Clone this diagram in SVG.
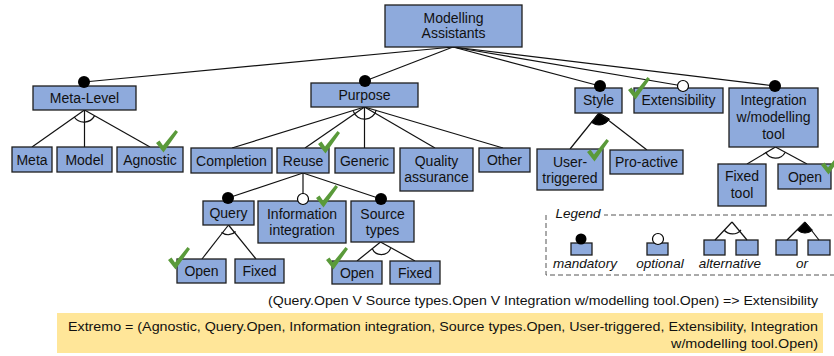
<svg xmlns="http://www.w3.org/2000/svg" xmlns:xlink="http://www.w3.org/1999/xlink" width="834" height="356" viewBox="0 0 834 356">
  <style>
    .box { fill: #8eaadc; stroke: #1e1e1e; stroke-width: 1.3; }
    .lbl { font-family: "Liberation Sans", Arial, sans-serif; font-size: 14px; fill: #111; text-anchor: middle; }
    .edge { stroke: #111; stroke-width: 1.2; fill: none; }
    .mand { fill: #000; }
    .opt { fill: #fff; stroke: #000; stroke-width: 1.2; }
    .arc { fill: #fff; stroke: #111; stroke-width: 1.2; }
    .orarc { fill: #000; stroke: #000; stroke-width: 1; }
    .leg { font-family: "Liberation Sans", Arial, sans-serif; font-size: 13.5px; font-style: italic; fill: #111; text-anchor: middle; }
    .note { font-family: "Liberation Sans", Arial, sans-serif; font-size: 12.5px; fill: #111; }
    .chk { fill: #5a9a3a; }
  </style>
  <defs>
    <path id="check" d="M0,13 L3.5,10.5 L7,15.5 L19.5,0 L22,2 L7.5,22.5 Z"/>
  </defs>

  <rect width="834" height="356" fill="#fff"/>

  <!-- connectors -->
  <g id="connectors">
    <!-- root to top-level features -->
    <line class="edge" x1="453" y1="47" x2="84" y2="82"/>
    <line class="edge" x1="453" y1="47" x2="365" y2="81"/>
    <line class="edge" x1="453" y1="47" x2="600" y2="86"/>
    <line class="edge" x1="453" y1="47" x2="683" y2="86"/>
    <line class="edge" x1="453" y1="47" x2="775" y2="86"/>

    <!-- Meta-Level alternative -->
    <path class="arc" d="M74.2,117 A12,12 0 0 0 94.5,115.9"/>
    <line class="edge" x1="84.5" y1="110" x2="32" y2="147"/>
    <line class="edge" x1="84.5" y1="110" x2="84.5" y2="147"/>
    <line class="edge" x1="84.5" y1="110" x2="150" y2="147"/>

    <!-- Purpose alternative -->
    <path class="arc" d="M353.3,111.3 A12,12 0 0 0 376.3,109.8"/>
    <line class="edge" x1="364.5" y1="107" x2="232" y2="148"/>
    <line class="edge" x1="364.5" y1="107" x2="305" y2="148"/>
    <line class="edge" x1="364.5" y1="107" x2="364.5" y2="148"/>
    <line class="edge" x1="364.5" y1="107" x2="435" y2="148"/>
    <line class="edge" x1="364.5" y1="107" x2="503" y2="148"/>

    <!-- Reuse sub-features -->
    <line class="edge" x1="303" y1="173" x2="228" y2="198"/>
    <line class="edge" x1="303" y1="173" x2="303" y2="199"/>
    <line class="edge" x1="303" y1="173" x2="381" y2="199"/>

    <!-- Query alternative -->
    <path class="arc" d="M221.6,232.2 A10,10 0 0 0 235.6,231.5"/>
    <line class="edge" x1="228.5" y1="225" x2="202" y2="259"/>
    <line class="edge" x1="228.5" y1="225" x2="256" y2="259"/>

    <!-- Source types alternative -->
    <path class="arc" d="M372.2,248.5 A10,10 0 0 0 390.7,248.2"/>
    <line class="edge" x1="380.5" y1="242" x2="357" y2="261"/>
    <line class="edge" x1="380.5" y1="242" x2="415" y2="261"/>

    <!-- Style or-group -->
    <path class="orarc" d="M599,113 L591.5,122.3 A12,12 0 0 0 609.4,119 Z"/>
    <line class="edge" x1="599" y1="113" x2="570" y2="149"/>
    <line class="edge" x1="599" y1="113" x2="647" y2="150"/>

    <!-- Integration alternative -->
    <path class="arc" d="M765.6,152.1 A11,11 0 0 0 785.1,152.5"/>
    <line class="edge" x1="775.5" y1="147" x2="747" y2="164"/>
    <line class="edge" x1="775.5" y1="147" x2="807" y2="164"/>
  </g>

  <!-- root -->
  <g id="modelling-assistants">
    <rect class="box" x="385" y="5" width="137" height="42"/>
    <text class="lbl" x="453.5" y="22.5">Modelling</text>
    <text class="lbl" x="453.5" y="38">Assistants</text>
  </g>

  <!-- Meta-Level -->
  <g id="meta-level">
    <rect class="box" x="33" y="86" width="103" height="24"/>
    <text class="lbl" x="84.5" y="103">Meta-Level</text>
    <circle class="mand" cx="84" cy="82" r="6"/>
  </g>
  <g id="meta">
    <rect class="box" x="12" y="147" width="40" height="25"/>
    <text class="lbl" x="32" y="164.5">Meta</text>
  </g>
  <g id="model">
    <rect class="box" x="57" y="147" width="55" height="25"/>
    <text class="lbl" x="84.5" y="164.5">Model</text>
  </g>
  <g id="agnostic">
    <rect class="box" x="117" y="147" width="66" height="25"/>
    <text class="lbl" x="150" y="164.5">Agnostic</text>
  </g>

  <!-- Purpose -->
  <g id="purpose">
    <rect class="box" x="311" y="83" width="107" height="24"/>
    <text class="lbl" x="364.5" y="100">Purpose</text>
    <circle class="mand" cx="365" cy="81" r="6"/>
  </g>
  <g id="completion">
    <rect class="box" x="191" y="148" width="81" height="25"/>
    <text class="lbl" x="231.5" y="165.5">Completion</text>
  </g>
  <g id="reuse">
    <rect class="box" x="277" y="148" width="52" height="25"/>
    <text class="lbl" x="303" y="165.5">Reuse</text>
  </g>
  <g id="generic">
    <rect class="box" x="335" y="148" width="59" height="25"/>
    <text class="lbl" x="364.5" y="165.5">Generic</text>
  </g>
  <g id="quality-assurance">
    <rect class="box" x="400" y="148" width="73" height="43"/>
    <text class="lbl" x="436.5" y="166">Quality</text>
    <text class="lbl" x="436.5" y="182">assurance</text>
  </g>
  <g id="other">
    <rect class="box" x="479" y="148" width="51" height="24"/>
    <text class="lbl" x="504.5" y="165">Other</text>
  </g>

  <!-- Reuse sub-features -->
  <g id="query">
    <rect class="box" x="203" y="201" width="51" height="24"/>
    <text class="lbl" x="228.5" y="218">Query</text>
    <circle class="mand" cx="228" cy="198" r="6"/>
  </g>
  <g id="information-integration">
    <rect class="box" x="258" y="201" width="88" height="42"/>
    <text class="lbl" x="302" y="218.5">Information</text>
    <text class="lbl" x="302" y="235">integration</text>
    <circle class="opt" cx="303" cy="199" r="5.5"/>
  </g>
  <g id="source-types">
    <rect class="box" x="351" y="201" width="63" height="41"/>
    <text class="lbl" x="382.5" y="218.5">Source</text>
    <text class="lbl" x="382.5" y="235">types</text>
    <circle class="mand" cx="381" cy="199" r="6"/>
  </g>
  <g id="query-open">
    <rect class="box" x="177" y="259" width="49" height="24"/>
    <text class="lbl" x="201.5" y="276">Open</text>
  </g>
  <g id="query-fixed">
    <rect class="box" x="235" y="259" width="49" height="24"/>
    <text class="lbl" x="259.5" y="276">Fixed</text>
  </g>
  <g id="source-open">
    <rect class="box" x="332" y="261" width="50" height="23"/>
    <text class="lbl" x="357" y="277.5">Open</text>
  </g>
  <g id="source-fixed">
    <rect class="box" x="390" y="261" width="50" height="23"/>
    <text class="lbl" x="415" y="277.5">Fixed</text>
  </g>

  <!-- Style -->
  <g id="style">
    <rect class="box" x="575" y="88" width="47" height="25"/>
    <text class="lbl" x="598.5" y="105">Style</text>
    <circle class="mand" cx="600" cy="86" r="6"/>
  </g>
  <g id="user-triggered">
    <rect class="box" x="537" y="149" width="66" height="41"/>
    <text class="lbl" x="570" y="166.5">User-</text>
    <text class="lbl" x="570" y="182.5">triggered</text>
  </g>
  <g id="pro-active">
    <rect class="box" x="610" y="150" width="73" height="24"/>
    <text class="lbl" x="646.5" y="167">Pro-active</text>
  </g>

  <!-- Extensibility -->
  <g id="extensibility">
    <rect class="box" x="634" y="88" width="89" height="25"/>
    <text class="lbl" x="678.5" y="105">Extensibility</text>
    <circle class="opt" cx="683" cy="86" r="5.5"/>
  </g>

  <!-- Integration -->
  <g id="integration">
    <rect class="box" x="729" y="88" width="89" height="59"/>
    <text class="lbl" x="773.5" y="105">Integration</text>
    <text class="lbl" x="773.5" y="122">w/modelling</text>
    <text class="lbl" x="773.5" y="139">tool</text>
    <circle class="mand" cx="775" cy="86" r="6"/>
  </g>
  <g id="fixed-tool">
    <rect class="box" x="718" y="164" width="48" height="42"/>
    <text class="lbl" x="742" y="181">Fixed</text>
    <text class="lbl" x="742" y="198">tool</text>
  </g>
  <g id="integration-open">
    <rect class="box" x="778" y="164" width="53" height="25"/>
    <text class="lbl" x="805" y="182">Open</text>
  </g>

  <!-- selection ticks -->
  <g id="ticks" class="chk">
    <use xlink:href="#check" x="156" y="130"/>
    <use xlink:href="#check" x="318" y="131"/>
    <use xlink:href="#check" x="316" y="185"/>
    <use xlink:href="#check" x="168" y="247"/>
    <use xlink:href="#check" x="326" y="247"/>
    <use xlink:href="#check" x="628" y="77"/>
    <use xlink:href="#check" x="587" y="139"/>
    <use xlink:href="#check" x="821" y="152"/>
  </g>

  <!-- legend -->
  <g id="legend">
    <path d="M546,215 V275 H840 M840,215 H604" fill="none" stroke="#555" stroke-width="1" stroke-dasharray="5,3"/>
    <text class="leg" x="578" y="218">Legend</text>

    <rect class="box" x="571" y="243" width="21" height="12"/>
    <circle class="mand" cx="581" cy="239" r="5.5"/>
    <text class="leg" x="585" y="268">mandatory</text>

    <rect class="box" x="647" y="243" width="21" height="12"/>
    <circle class="opt" cx="658" cy="239" r="5.5"/>
    <text class="leg" x="660" y="268">optional</text>

    <rect class="box" x="704" y="240" width="21" height="15"/>
    <rect class="box" x="736" y="240" width="22" height="15"/>
    <path class="arc" d="M724,230 A11,11 0 0 0 741,229.8"/>
    <line class="edge" x1="732" y1="222" x2="715" y2="240"/>
    <line class="edge" x1="732" y1="222" x2="747" y2="240"/>
    <text class="leg" x="730" y="268">alternative</text>

    <rect class="box" x="776" y="240" width="21" height="15"/>
    <rect class="box" x="808" y="240" width="22" height="15"/>
    <path class="orarc" d="M805,222 L797.4,230 A11,11 0 0 0 812.4,230.2 Z"/>
    <line class="edge" x1="805" y1="222" x2="787" y2="240"/>
    <line class="edge" x1="805" y1="222" x2="819" y2="240"/>
    <text class="leg" x="802" y="268">or</text>
  </g>

  <!-- constraint and configuration notes -->
  <g id="notes">
    <text class="note" x="268" y="305" textLength="550" lengthAdjust="spacingAndGlyphs">(Query.Open V Source types.Open V Integration w/modelling tool.Open) =&gt; Extensibility</text>
    <rect x="57" y="313" width="766" height="40" fill="#ffe699"/>
    <text class="note" x="68" y="331" textLength="750" lengthAdjust="spacingAndGlyphs">Extremo = (Agnostic, Query.Open, Information integration, Source types.Open, User-triggered, Extensibility, Integration</text>
    <text class="note" x="671" y="348" textLength="147" lengthAdjust="spacingAndGlyphs">w/modelling tool.Open)</text>
  </g>
</svg>
